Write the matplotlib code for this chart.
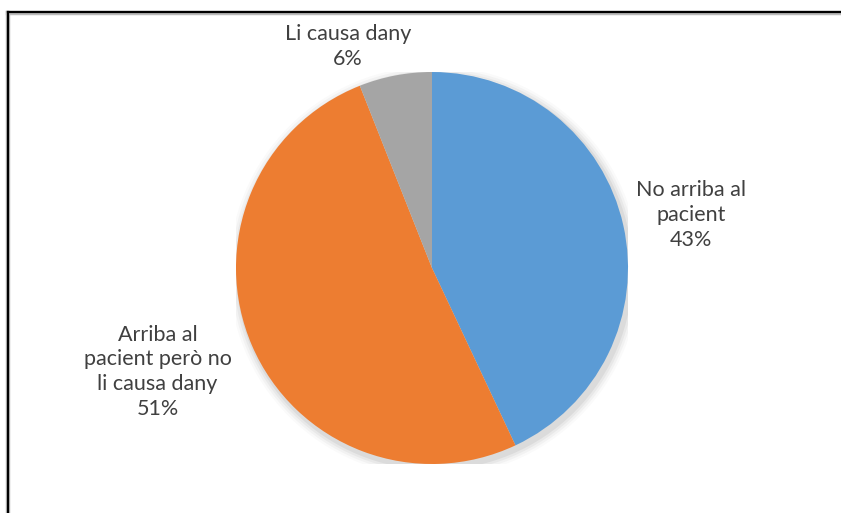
import matplotlib.pyplot as plt
from matplotlib.lines import Line2D
from matplotlib.patches import Circle

plt.rcParams['font.family'] = ['Lato', 'DejaVu Sans']

labels = ['No arriba al\npacient', 'Arriba al\npacient però no\nli causa dany', 'Li causa dany']
values = [43, 51, 6]
colors = ['#5B9BD5', '#ED7D31', '#A5A5A5']
label_pos = [(1.32, 0.27), (-1.40, -0.53), (-0.43, 1.13)]

fig = plt.figure(figsize=(8.41, 5.13), dpi=100)
W, H = 841, 513
cx, cy, r = 432, 268, 196
ax = fig.add_axes([(cx - r) / W, (H - cy - r) / H, 2 * r / W, 2 * r / H])

# soft drop shadow under the pie
for i, a in enumerate([0.05, 0.04, 0.03, 0.02]):
    ax.add_patch(Circle((0.012, -0.018), 1.0 + 0.012 * (i + 1), color='black',
                        alpha=a, lw=0, zorder=0))

ax.pie(values, colors=colors, startangle=90, counterclock=False, radius=1.0,
       wedgeprops=dict(linewidth=0, zorder=1))
ax.set_xlim(-1, 1)
ax.set_ylim(-1, 1)
ax.set_aspect('equal')
ax.axis('off')

for lab, v, (x, y) in zip(labels, values, label_pos):
    ax.text(x, y, f'{lab}\n{v}%', ha='center', va='center', fontsize=15.5,
            color='#404040', linespacing=1.3, clip_on=False)

# frame lines on top and left
fig.add_artist(Line2D([8 / W, 1], [1 - 12.5 / H] * 2, color='#bbbbbb', lw=3.2))
fig.add_artist(Line2D([8 / W, 8 / W], [0, 1 - 12.5 / H], color='#bbbbbb', lw=3.2))
fig.add_artist(Line2D([8 / W, 1], [1 - 12 / H] * 2, color='black', lw=1.6))
fig.add_artist(Line2D([8 / W, 8 / W], [0, 1 - 12 / H], color='black', lw=1.6))

fig.savefig('out.png', dpi=100)
